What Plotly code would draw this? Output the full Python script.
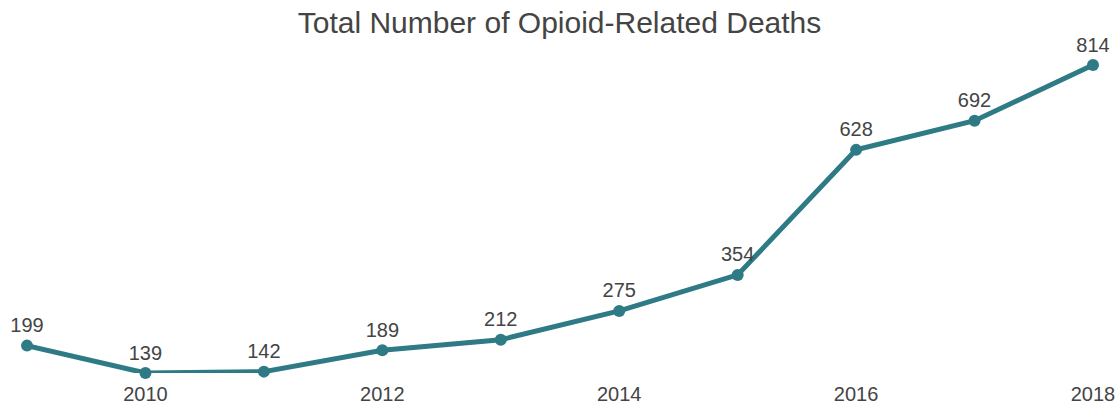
import plotly.graph_objects as go

years = [2009, 2010, 2011, 2012, 2013, 2014, 2015, 2016, 2017, 2018]
deaths = [199, 139, 142, 189, 212, 275, 354, 628, 692, 814]
tick_years = [2010, 2012, 2014, 2016, 2018]

fig = go.Figure(go.Scatter(
    x=years, y=deaths, mode="lines+markers+text",
    text=[str(v) for v in deaths], textposition="top center",
    textfont=dict(size=20, color="#444444"),
    line=dict(color="#2e7a85", width=5),
    marker=dict(color="#2e7a85", size=12),
    cliponaxis=False,
))
fig.update_layout(
    width=1119, height=408,
    margin=dict(l=27, r=26, t=65, b=35, autoexpand=False),
    plot_bgcolor="white", paper_bgcolor="white",
    font=dict(family="Liberation Sans, Arial, sans-serif", color="#444444"),
    title=dict(text="Total Number of Opioid-Related Deaths", x=0.5, xanchor="center",
               y=1 - 22 / 408, yanchor="middle", font=dict(size=30, color="#444444")),
    showlegend=False,
    xaxis=dict(range=[2009, 2018], tickvals=tick_years, showgrid=False, zeroline=False,
               showline=False, automargin=False, ticks="outside", ticklen=3,
               tickcolor="rgba(0,0,0,0)", tickfont=dict(size=20, color="#444444")),
    yaxis=dict(range=[139, 814], visible=False, showgrid=False, zeroline=False,
               automargin=False),
)
fig.write_html("out.html", config={"displayModeBar": False},
               post_script="document.body.style.margin='0';document.body.style.overflow='hidden';")
